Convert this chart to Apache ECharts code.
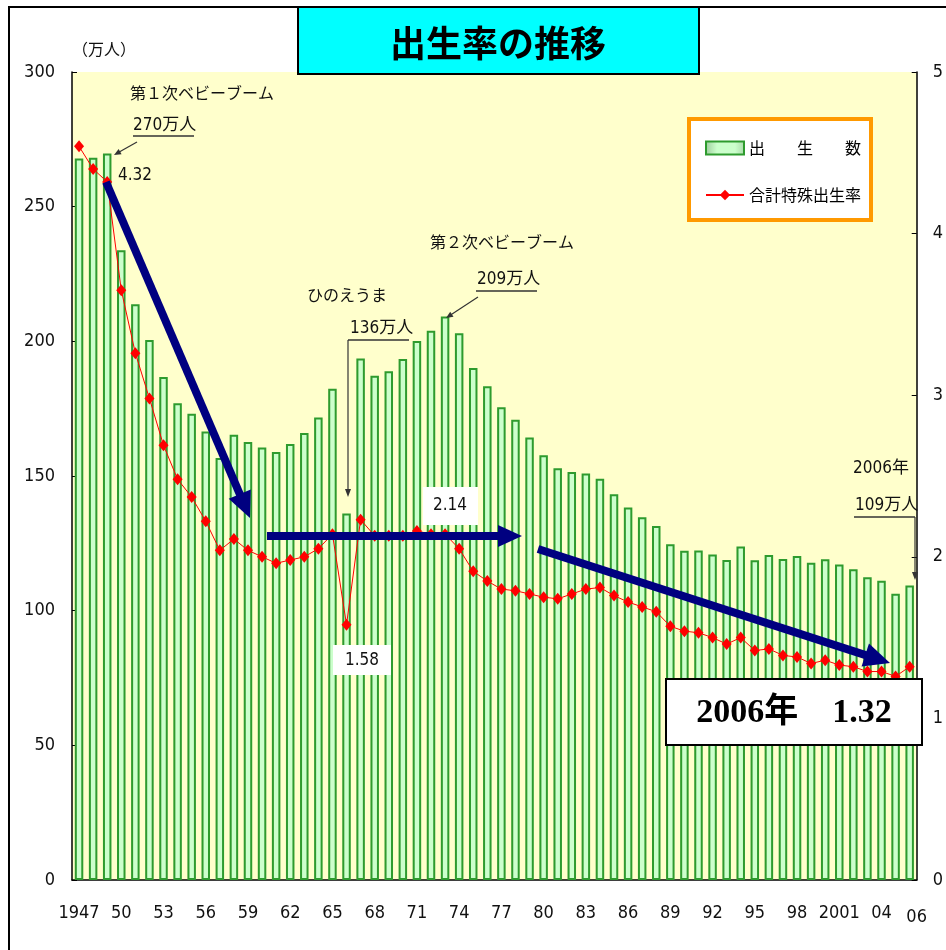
<!DOCTYPE html>
<html>
<head>
<meta charset="utf-8">
<script src="https://cdn.jsdelivr.net/npm/echarts@6/dist/echarts.min.js"></script>
<style>
html,body{margin:0;padding:0;background:#fff;}
#main{width:946px;height:950px;}
</style>
</head>
<body>
<div id="main"></div>
<script>
// ---- data ----
const years = ['1947','1948','1949','1950','1951','1952','1953','1954','1955','1956',
  '1957','1958','1959','1960','1961','1962','1963','1964','1965','1966',
  '1967','1968','1969','1970','1971','1972','1973','1974','1975','1976',
  '1977','1978','1979','1980','1981','1982','1983','1984','1985','1986',
  '1987','1988','1989','1990','1991','1992','1993','1994','1995','1996',
  '1997','1998','1999','2000','2001','2002','2003','2004','2005','2006'];
// 出生数（万人）
const births = [267.9,268.2,269.7,233.8,213.8,200.5,186.8,177.0,173.1,166.5,
  156.7,165.3,162.6,160.6,158.9,161.9,166.0,171.7,182.4,136.1,
  193.6,187.2,188.9,193.4,200.1,203.9,209.2,203.0,190.1,183.3,
  175.5,170.9,164.3,157.7,152.9,151.5,150.9,149.0,143.2,138.3,
  134.7,131.4,124.7,122.2,122.3,120.9,118.8,123.8,118.7,120.7,
  119.2,120.3,117.8,119.1,117.1,115.4,112.4,111.1,106.3,109.3];
// 合計特殊出生率
const tfr = [4.54,4.40,4.32,3.65,3.26,2.98,2.69,2.48,2.37,2.22,
  2.04,2.11,2.04,2.00,1.96,1.98,2.00,2.05,2.14,1.58,
  2.23,2.13,2.13,2.13,2.16,2.14,2.14,2.05,1.91,1.85,
  1.80,1.79,1.77,1.75,1.74,1.77,1.80,1.81,1.76,1.72,
  1.69,1.66,1.57,1.54,1.53,1.50,1.46,1.50,1.42,1.43,
  1.39,1.38,1.34,1.36,1.33,1.32,1.29,1.29,1.26,1.32];
const tickYears = ['1947','1950','1953','1956','1959','1962','1965','1968','1971','1974','1977','1980','1983','1986','1989','1992','1995','1998','2001','2004','2006'];
const tickTexts = ['1947','50','53','56','59','62','65','68','71','74','77','80','83','86','89','92','95','98','2001','04','06'];

const NARROW = '"Liberation Sans Narrow","DejaVu Sans Condensed","Noto Sans CJK JP",sans-serif';
const JP = '"Noto Sans CJK JP",sans-serif';

function arrow(x1,y1,x2,y2,lw,hl,hw,color,z){
  const dx=x2-x1, dy=y2-y1, L=Math.hypot(dx,dy), ux=dx/L, uy=dy/L;
  const bx=x2-ux*hl, by=y2-uy*hl, px=-uy, py=ux;
  return [
    {type:'line', z:z, shape:{x1:x1,y1:y1,x2:bx+ux*2,y2:by+uy*2}, style:{stroke:color,lineWidth:lw}},
    {type:'polygon', z:z, shape:{points:[[x2,y2],[bx+px*hw,by+py*hw],[bx-px*hw,by-py*hw]]}, style:{fill:color}}
  ];
}
function txt(x,y,text,font,align,z){
  return {type:'text', z:z||20, style:{x:x,y:y,text:text,font:font,fill:'#111',align:align||'left',verticalAlign:'middle'}};
}
function ln(x1,y1,x2,y2,z){
  return {type:'line', z:z||20, shape:{x1:x1,y1:y1,x2:x2,y2:y2}, style:{stroke:'#333',lineWidth:1.5}};
}

const annFont = '16px ' + JP;
const numFont = '17px ' + NARROW;

const graphics = [
  {type:'rect', z:1, shape:{x:9,y:7,width:980,height:980}, style:{fill:'none',stroke:'#000',lineWidth:2}},
  {type:'rect', z:10, shape:{x:298,y:7,width:401,height:67}, style:{fill:'#00FFFF',stroke:'#000',lineWidth:2}},
  {type:'text', z:11, style:{x:498,y:43,text:'出生率の推移',font:'bold 36px '+JP,fill:'#000',align:'center',verticalAlign:'middle'}},
  txt(72,49,'（万人）','16px '+JP),
  {type:'rect', z:15, shape:{x:689,y:119,width:182,height:101}, style:{fill:'#fff',stroke:'#FF9900',lineWidth:4}},
  txt(130,93,'第１次ベビーブーム',annFont),
  txt(133,126,'270万人',numFont),
  ln(133,136,194,136),
  ...arrow(137,142,114,155,1.2,7,3,'#333',20),
  txt(118,176,'4.32',numFont),
  txt(307,295,'ひのえうま',annFont),
  txt(350,329,'136万人',numFont),
  ln(348,340,409,340),
  ...arrow(348,340,348,497,1.2,8,3,'#333',20),
  txt(430,242,'第２次ベビーブーム',annFont),
  txt(477,280,'209万人',numFont),
  ln(476,291,537,291),
  ...arrow(478,297,446,318,1.2,7,3,'#333',20),
  txt(853,469,'2006年',numFont),
  txt(855,506,'109万人',numFont),
  ln(854,517,915,517),
  ...arrow(915,517,915,580,1.2,8,3,'#333',20),
  {type:'rect', z:20, shape:{x:423,y:487,width:55,height:38}, style:{fill:'#fff'}},
  txt(450,506,'2.14',numFont,'center',21),
  {type:'rect', z:20, shape:{x:333,y:645,width:58,height:30}, style:{fill:'#fff'}},
  txt(362,661,'1.58',numFont,'center',21),
  ...arrow(106,182,250,518,8,26,12,'#000080',30),
  ...arrow(267,536,522,536,8,24,11,'#000080',30),
  ...arrow(538,549,890,663,8,26,12,'#000080',30),
  {type:'rect', z:35, shape:{x:666,y:679,width:256,height:66}, style:{fill:'#fff',stroke:'#000',lineWidth:2}},
  {type:'text', z:36, style:{x:794,y:713,text:'2006年　1.32',font:'bold 34px "Liberation Serif","Noto Sans CJK JP",serif',fill:'#000',align:'center',verticalAlign:'middle'}}
];

const chart = echarts.init(document.getElementById('main'), null, {renderer:'canvas'});
chart.setOption({
  animation:false,
  backgroundColor:'#fff',
  grid:{left:72,right:27,top:72,bottom:70,show:true,backgroundColor:'#FFFFCC',borderWidth:0},
  legend:{
    orient:'vertical', left:700, top:135, itemWidth:38, itemHeight:13, itemGap:31, z:20,
    textStyle:{fontSize:16,fontFamily:JP,color:'#000'},
    formatter:function(n){return n==='出生数'?'出　　生　　数':n;},
    data:[{name:'出生数',icon:'rect'},{name:'合計特殊出生率'}]
  },
  xAxis:{
    type:'category', data:years, boundaryGap:true,
    axisLine:{show:true,lineStyle:{color:'#000',width:1.5}},
    axisTick:{show:false},
    axisLabel:{
      interval:function(i,v){return tickYears.indexOf(v)>=0;},
      formatter:function(v){const k=tickYears.indexOf(v); if(k<0) return ''; return v==='2006'?'{e|'+tickTexts[k]+'}':tickTexts[k];},
      margin:24, color:'#111', fontSize:18, fontFamily:NARROW,
      rich:{e:{padding:[4,0,0,14],fontSize:18,fontFamily:NARROW,color:'#111'}}
    }
  },
  yAxis:[
    {type:'value', min:0, max:300, interval:50, position:'left',
     axisLine:{show:true,lineStyle:{color:'#000',width:1.5}},
     axisTick:{show:true,inside:true,length:5,lineStyle:{color:'#000'}},
     splitLine:{show:false},
     axisLabel:{margin:17,color:'#111',fontSize:18,fontFamily:NARROW}},
    {type:'value', min:0, max:5, interval:1, position:'right',
     axisLine:{show:true,lineStyle:{color:'#000',width:1.5}},
     axisTick:{show:true,inside:true,length:5,lineStyle:{color:'#000'}},
     splitLine:{show:false},
     axisLabel:{margin:16,color:'#111',fontSize:18,fontFamily:NARROW}}
  ],
  series:[
    {name:'出生数', type:'bar', data:births, yAxisIndex:0, barWidth:8.5, z:2,
     itemStyle:{
       color:new echarts.graphic.LinearGradient(0,0,1,0,[
         {offset:0,color:'#9CCB9C'},{offset:0.3,color:'#CCFFCC'},{offset:0.75,color:'#CCFFCC'},{offset:1,color:'#A8D8A8'}]),
       borderColor:'#2E9B2E', borderWidth:2
     }},
    {name:'合計特殊出生率', type:'line', data:tfr, yAxisIndex:1, z:5,
     symbol:'diamond', symbolSize:[10,12], showSymbol:true, showAllSymbol:true,
     lineStyle:{color:'#FF0000',width:1}, itemStyle:{color:'#FF0000'}}
  ],
  graphic:{elements:graphics}
});
</script>
</body>
</html>
